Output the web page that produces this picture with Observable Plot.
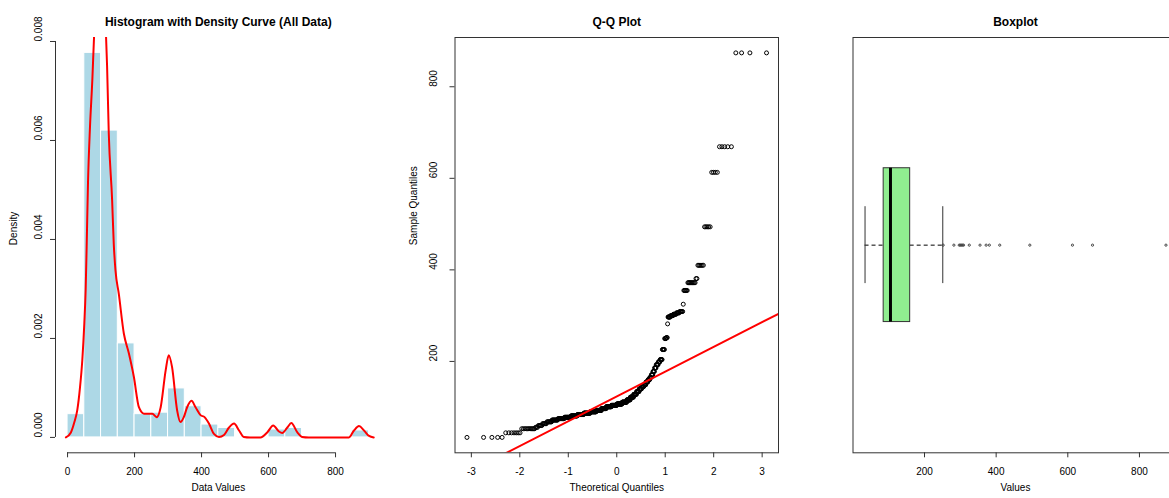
<!DOCTYPE html>
<html><head><meta charset="utf-8">
<script src="https://cdn.jsdelivr.net/npm/d3@7"></script>
<script src="https://cdn.jsdelivr.net/npm/@observablehq/plot@0.6"></script>
<style>
html,body{margin:0;padding:0;background:#fff;}
#wrap{position:relative;width:1169px;height:498px;overflow:hidden;background:#fff;}
</style></head><body><div id="wrap"></div>
<script>
// ---------- data ----------
const histBreaks = [0,50,100,150,200,250,300,350,400,450,500,550,600,650,700,750,800,850,900];
const histDensity = [0.00047,0.00777,0.0062,0.0019,0.00047,0.0005,0.00099,0.00063,0.00026,0.00019,0,0,0.00016,0.00019,0,0,0,0.00014];

const densityX = [-5,10,20,29,37,44,50,54,57,61,67,74,79,86,97,108,115,118,123,133,138,143,153,168,183,198,213,228,253,266,278,293,302,312,327,337,347,357,370,382,397,409,422,437,452,467,482,497,512,526,545,576,596,614,631,641,656,668,686,700,720,840,855,870,885,900,914];
const densityY = [0,0.0001,0.0003,0.00055,0.001,0.00156,0.0023,0.00298,0.00385,0.00514,0.00628,0.00723,0.00808,0.0089,0.0094,0.009,0.00808,0.0075,0.00615,0.0048,0.0039,0.00338,0.0029,0.0021,0.0017,0.00122,0.00061,0.00048,0.00048,0.00041,0.00061,0.00136,0.00166,0.00142,0.00055,0.00031,0.00041,0.00061,0.00074,0.00061,0.00045,0.00041,0.00028,0.00007,0.00001,0.00005,0.0002,0.00028,0.00014,0.00001,0,0,0.0001,0.00024,0.00012,0.00009,0.0002,0.00029,0.0001,0.00001,0,0,0.00014,0.00023,0.00014,0.00003,0];

// sample values (distinct) and how many times each occurs
const qqValues = [34,44,53,56,60,64,68,72,75,78,81,84,87,90,93,97,101,104,107,111,116,122,128,134,140,145,149,155,160,165,171,178,186,193,199,204,226,250,252,282,297,300,303,306,309,325,355,372,381,410,494,613,669,874];
const qqCounts = [5,7,11,3,5,6,8,11,14,16,18,20,22,22,20,19,21,22,22,19,14,13,11,10,9,8,7,7,6,5,5,5,5,6,5,6,6,4,3,1,6,6,6,6,6,1,6,10,2,6,5,4,5,4];

// boxplot: lower whisker, Q1, median, Q3, upper whisker
const boxStats = [34, 86, 105, 160, 251];

const histXTicks = [0,200,400,600,800];
const histYTicks = [0,0.002,0.004,0.006,0.008];
const qqXTicks = [-3,-2,-1,0,1,2,3];
const qqYTicks = [200,400,600,800];
const boxXTicks = [200,400,600,800];

// ---------- helpers ----------
function qnorm(p){
  const a=[-3.969683028665376e+01,2.209460984245205e+02,-2.759285104469687e+02,1.383577518672690e+02,-3.066479806614716e+01,2.506628277459239e+00];
  const b=[-5.447609879822406e+01,1.615858368580409e+02,-1.556989798598866e+02,6.680131188771972e+01,-1.328068155288572e+01];
  const c=[-7.784894002430293e-03,-3.223964580411365e-01,-2.400758277161838e+00,-2.549732539343734e+00,4.374664141464968e+00,2.938163982698783e+00];
  const d=[7.784695709041462e-03,3.224671290700398e-01,2.445134137142996e+00,3.754408661907416e+00];
  const pl=0.02425, ph=1-pl; let q,r;
  if(p<pl){q=Math.sqrt(-2*Math.log(p));return (((((c[0]*q+c[1])*q+c[2])*q+c[3])*q+c[4])*q+c[5])/((((d[0]*q+d[1])*q+d[2])*q+d[3])*q+1);}
  if(p>ph){q=Math.sqrt(-2*Math.log(1-p));return -(((((c[0]*q+c[1])*q+c[2])*q+c[3])*q+c[4])*q+c[5])/((((d[0]*q+d[1])*q+d[2])*q+d[3])*q+1);}
  q=p-0.5;r=q*q;return (((((a[0]*r+a[1])*r+a[2])*r+a[3])*r+a[4])*r+a[5])*q/(((((b[0]*r+b[1])*r+b[2])*r+b[3])*r+b[4])*r+1);
}
const pad = (lo, hi) => { const e = (hi - lo) * 0.04; return [lo - e, hi + e]; };

const FONT = '"Liberation Sans", Arial, Helvetica, sans-serif';
const INK = "#333";
const wrap = document.getElementById("wrap");
function place(svg, left){ svg.style.position="absolute"; svg.style.left=left+"px"; svg.style.top="0px"; wrap.appendChild(svg); }
const baseStyle = {fontFamily: FONT, fontSize: "10px", color: "black", background: "transparent", overflow: "visible"};
const titleMark = (t, dy) => Plot.text([t], {frameAnchor: "top", dy, fontWeight: "bold", fontSize: 12, fill: "black"});

// ---------- tables ----------
const bins = histDensity.map((d, i) => ({x1: histBreaks[i], x2: histBreaks[i+1], d}));
const dens = densityX.map((x, i) => ({x, y: densityY[i]}));
const sample = qqValues.flatMap((v, i) => Array(qqCounts[i]).fill(v));
const n = sample.length;
const qq = sample.map((v, i) => ({t: qnorm((i + 1 - 0.5) / n), s: v}));
const q1 = d3.quantileSorted(sample, 0.25), q3 = d3.quantileSorted(sample, 0.75);
const slope = (q3 - q1) / (qnorm(0.75) - qnorm(0.25));
const intercept = q1 - slope * qnorm(0.25);
const qqXDom = pad(d3.min(qq, d => d.t), d3.max(qq, d => d.t));
const sDom = pad(d3.min(sample), d3.max(sample));
const qqLine = qqXDom.map(t => ({t, s: intercept + slope * t}));
const outliers = Array.from(new Set(sample.filter(v => v > boxStats[4] || v < boxStats[0])));

// ---------- panel 1: histogram ----------
const hx = pad(histBreaks[0], histBreaks[histBreaks.length-1]);
const hy = pad(0, d3.max(histDensity));
place(Plot.plot({
  width: 390, height: 498,
  marginLeft: 55, marginRight: 9.4, marginTop: 37, marginBottom: 45.7,
  x: {domain: hx}, y: {domain: hy},
  style: baseStyle,
  marks: [
    Plot.rect(bins, {x1: "x1", x2: "x2", y1: 0, y2: "d", fill: "#ADD8E6", stroke: "white", strokeWidth: 1}),
    Plot.line(dens, {x: "x", y: "y", stroke: "#FF0000", strokeWidth: 2, curve: "monotone-x", clip: true}),
    Plot.ruleX([hx[0]], {y1: histYTicks[0], y2: histYTicks[histYTicks.length-1], stroke: INK}),
    Plot.ruleY([hy[0]], {x1: histXTicks[0], x2: histXTicks[histXTicks.length-1], stroke: INK}),
    Plot.axisY({ticks: histYTicks, tickSize: 5, tickFormat: () => "", label: null, stroke: INK}),
    Plot.text(histYTicks, {y: d => d, text: d => d3.format(".3f")(d), frameAnchor: "left", dx: -17, rotate: -90, fill: "black"}),
    Plot.axisX({ticks: histXTicks, tickSize: 5, tickPadding: 10, label: null, stroke: INK, fill: "black"}),
    Plot.text(["Data Values"], {frameAnchor: "bottom", dy: 37.7, fill: "black"}),
    Plot.text(["Density"], {frameAnchor: "left", dx: -41.5, rotate: -90, fill: "black"}),
    titleMark("Histogram with Density Curve (All Data)", -20)
  ]
}), 0);

// ---------- panel 2: Q-Q plot ----------
place(Plot.plot({
  width: 400, height: 498,
  marginLeft: 64.5, marginRight: 12, marginTop: 37, marginBottom: 45.7,
  x: {domain: qqXDom}, y: {domain: sDom},
  style: baseStyle,
  marks: [
    Plot.dot(qq, {x: "t", y: "s", r: 2, stroke: "black", strokeWidth: 1, fill: "none"}),
    Plot.line(qqLine, {x: "t", y: "s", stroke: "#FF0000", strokeWidth: 2, clip: true}),
    Plot.frame({stroke: INK}),
    Plot.axisY({ticks: qqYTicks, tickSize: 5, tickFormat: () => "", label: null, stroke: INK}),
    Plot.text(qqYTicks, {y: d => d, text: d => String(d), frameAnchor: "left", dx: -21, rotate: -90, fill: "black"}),
    Plot.axisX({ticks: qqXTicks, tickSize: 5, tickPadding: 10, tickFormat: d => String(d), label: null, stroke: INK, fill: "black"}),
    Plot.text(["Theoretical Quantiles"], {frameAnchor: "bottom", dy: 37.7, fill: "black"}),
    Plot.text(["Sample Quantiles"], {frameAnchor: "left", dx: -41.5, rotate: -90, fill: "black"}),
    titleMark("Q-Q Plot", -20)
  ]
}), 390);

// ---------- panel 3: boxplot ----------
const bx = pad(d3.min(sample), d3.max(sample));
place(Plot.plot({
  width: 400, height: 498,
  marginLeft: 62.5, marginRight: 12.5, marginTop: 37, marginBottom: 45.7,
  x: {domain: bx}, y: {domain: pad(0.5, 1.5), axis: null},
  style: baseStyle,
  marks: [
    Plot.ruleY([1], {x1: boxStats[0], x2: boxStats[1], stroke: "black", strokeDasharray: "4,3"}),
    Plot.ruleY([1], {x1: boxStats[3], x2: boxStats[4], stroke: "black", strokeDasharray: "4,3"}),
    Plot.ruleX([boxStats[0], boxStats[4]], {y1: 0.9, y2: 1.1, stroke: INK}),
    Plot.rect([boxStats], {x1: d => d[1], x2: d => d[3], y1: 0.8, y2: 1.2, fill: "#90EE90", stroke: INK}),
    Plot.ruleX([boxStats[2]], {y1: 0.8, y2: 1.2, stroke: "black", strokeWidth: 3}),
    Plot.dot(outliers, {x: d => d, y: 1, r: 1.1, stroke: "#444", strokeWidth: 1, fill: "none"}),
    Plot.frame({stroke: INK}),
    Plot.axisX({ticks: boxXTicks, tickSize: 5, tickPadding: 10, label: null, stroke: INK, fill: "black"}),
    Plot.text(["Values"], {frameAnchor: "bottom", dy: 37.7, fill: "black"}),
    titleMark("Boxplot", -20)
  ]
}), 790);
</script></body></html>
